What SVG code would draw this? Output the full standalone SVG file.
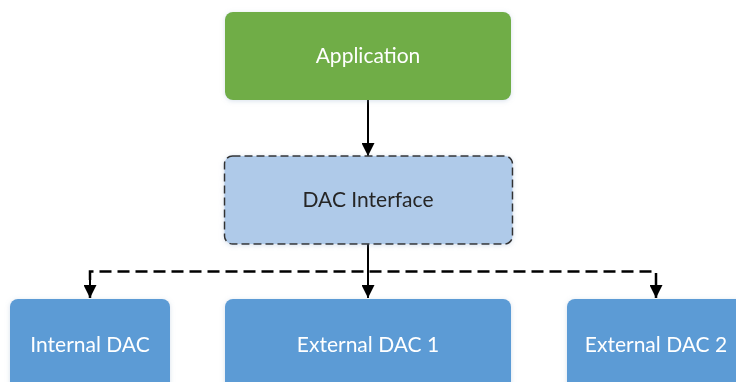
<svg xmlns="http://www.w3.org/2000/svg" width="736" height="382" viewBox="0 0 736 382">
<defs>
<filter id="sh" x="-10%" y="-20%" width="120%" height="140%">
<feGaussianBlur in="SourceAlpha" stdDeviation="2.5"/>
<feOffset dx="0" dy="1" result="b"/>
<feFlood flood-color="#8fa8c8" flood-opacity="0.35"/>
<feComposite in2="b" operator="in"/>
<feMerge><feMergeNode/><feMergeNode in="SourceGraphic"/></feMerge>
</filter>
<marker id="ah" viewBox="0 0 13 13" refX="13" refY="6.5" markerWidth="13" markerHeight="13" markerUnits="userSpaceOnUse" orient="auto">
<path d="M0,0 L13,6.5 L0,13 Z" fill="#000"/>
</marker>
</defs>
<style>
.lbl{font-family:Lato,"Liberation Sans",sans-serif;font-size:21px;text-anchor:middle;fill:#fff}
.dark{fill:#262626}
.solid{stroke:#000;stroke-width:2;fill:none}
.dash{stroke:#000;stroke-width:2.5;fill:none;stroke-dasharray:12 6}
</style>
<rect width="736" height="382" fill="#fff"/>
<g id="connectors">
<line class="solid" x1="368" y1="100" x2="368" y2="156" marker-end="url(#ah)"/>
<line class="solid" x1="368" y1="244" x2="368" y2="298" marker-end="url(#ah)"/>
<polyline class="dash" points="90,298 90,271.5 656,271.5 656,298"/>
<line class="solid" x1="90" y1="275" x2="90" y2="298" marker-end="url(#ah)"/>
<line class="solid" x1="656" y1="275" x2="656" y2="298" marker-end="url(#ah)"/>
</g>
<g id="application" filter="url(#sh)">
<rect x="225" y="12" width="286" height="88" rx="8" fill="#70AD47"/>
<text class="lbl" x="368" y="63">Application</text>
</g>
<g id="dac-interface" filter="url(#sh)">
<rect x="224.5" y="156" width="288" height="88" rx="8" fill="#AFCAE9" stroke="#333" stroke-width="1.5" stroke-dasharray="8 4"/>
<text class="lbl dark" x="368" y="207">DAC Interface</text>
</g>
<g id="internal-dac" filter="url(#sh)">
<rect x="10" y="299" width="160" height="110" rx="8" fill="#5B9BD5"/>
<text class="lbl" x="90" y="351.5">Internal DAC</text>
</g>
<g id="external-dac-1" filter="url(#sh)">
<rect x="225" y="299" width="286" height="110" rx="8" fill="#5B9BD5"/>
<text class="lbl" x="368" y="351.5">External DAC 1</text>
</g>
<g id="external-dac-2" filter="url(#sh)">
<rect x="567" y="299" width="200" height="110" rx="8" fill="#5B9BD5"/>
<text class="lbl" x="656" y="351.5">External DAC 2</text>
</g>
</svg>
